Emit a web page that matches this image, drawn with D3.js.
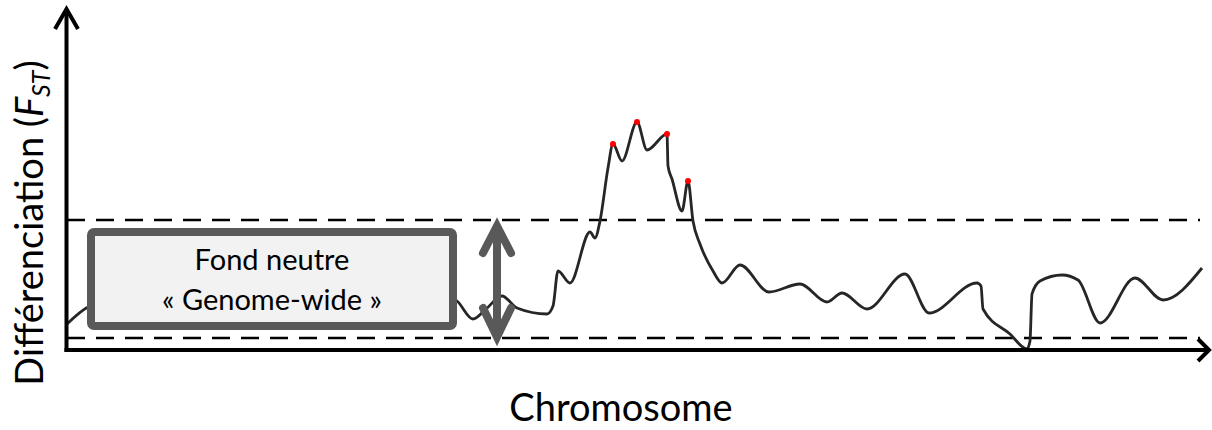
<!DOCTYPE html>
<html><head><meta charset="utf-8">
<script src="https://cdn.jsdelivr.net/npm/d3@7"></script>
<style>
html,body{margin:0;padding:0;background:#fff;}
svg{display:block;font-family:Lato,"Open Sans",sans-serif;}
</style></head>
<body>
<svg id="chart" width="1212" height="430"></svg>
<script>
// Position along the chromosome (arbitrary units)
const positions = [0,21,63,133,203,273,333,373,390,406,419,435,450,480,486,491,503,523,528,533,541,546,555,570,580,600,601,605,615,621,626,633,646,655,673,702,733,760,775,800,838,862,910,914,916,943,960,963,965,973,995,1011,1033,1068,1096,1135];
// FST along the chromosome
const fstValues = [0.026,0.043,0.054,0.044,0.052,0.039,0.049,0.056,0.049,0.031,0.041,0.054,0.042,0.036,0.044,0.079,0.067,0.118,0.112,0.129,0.182,0.206,0.189,0.228,0.200,0.216,0.184,0.171,0.139,0.169,0.129,0.106,0.079,0.067,0.085,0.058,0.066,0.048,0.057,0.041,0.076,0.037,0.067,0.064,0.041,0.016,0.001,0.009,0.056,0.069,0.075,0.070,0.027,0.072,0.050,0.082];
// Outlier peaks (positions) marked in red
const outlierPositions = [546,570,600,621];
// Genome-wide neutral background limits
const thresholds = [0.012,0.130];
// Text labels
const yLabel = "Différenciation (";
const yLabelF = "F";
const yLabelSub = "ST";
const xLabel = "Chromosome";
const boxLines = ["Fond neutre","« Genome-wide »"];

const svg = d3.select("#chart");
const x = d3.scaleLinear().domain([0,1135]).range([67,1202]);
const y = d3.scaleLinear().domain([0,0.34]).range([350,10]);
const data = positions.map((p,i)=>({p, v:fstValues[i]}));

// dashed threshold lines
svg.selectAll("line.thr").data(thresholds).join("line")
  .attr("class","thr")
  .attr("x1",x(0)).attr("x2",1200)
  .attr("y1",d=>y(d)).attr("y2",d=>y(d))
  .attr("stroke","#000").attr("stroke-width",2.6)
  .attr("stroke-dasharray","18 11");

// FST curve
const line = d3.line().x(d=>x(d.p)).y(d=>y(d.v)).curve(d3.curveMonotoneX);
svg.append("path").datum(data).attr("d",line)
  .attr("fill","none").attr("stroke","#262626").attr("stroke-width",2.8)
  .attr("stroke-linejoin","round");

// outlier dots
svg.selectAll("circle.out").data(outlierPositions.map(p=>data.find(d=>d.p===p))).join("circle")
  .attr("class","out").attr("cx",d=>x(d.p)).attr("cy",d=>y(d.v)).attr("r",3)
  .attr("fill","#ff0000");

// neutral background box
svg.append("rect").attr("x",91).attr("y",232).attr("width",362).attr("height",94)
  .attr("rx",3).attr("fill","#f2f2f2").attr("stroke","#595959").attr("stroke-width",8);
svg.selectAll("text.box").data(boxLines).join("text")
  .attr("class","box").attr("x",272).attr("y",(d,i)=>270+i*40)
  .attr("text-anchor","middle").attr("font-size",29).attr("fill","#000").text(d=>d);

// double-headed arrow spanning the background range
const ax = 497, yTop = y(thresholds[1])+6, yBot = y(thresholds[0])-1;
const g = svg.append("g").attr("stroke","#595959").attr("stroke-width",8)
  .attr("fill","none").attr("stroke-linecap","round").attr("stroke-linejoin","miter");
g.append("line").attr("x1",ax).attr("x2",ax).attr("y1",yTop+2).attr("y2",yBot-4);
g.append("path").attr("d",`M${ax-14},${yTop+27} L${ax},${yTop} L${ax+14},${yTop+27}`);
g.append("path").attr("d",`M${ax-14},${yBot-29} L${ax},${yBot} L${ax+14},${yBot-29}`);

// axes
const axG = svg.append("g").attr("stroke","#000").attr("stroke-width",4).attr("fill","none");
axG.append("line").attr("x1",66.5).attr("x2",66.5).attr("y1",y(0)+2).attr("y2",10);
axG.append("path").attr("d","M55,29 L66.5,9 L78,29");
axG.append("line").attr("x1",64.5).attr("x2",1209).attr("y1",y(0)).attr("y2",y(0));
axG.append("path").attr("d",`M1198,${y(0)-11} L1209,${y(0)} L1198,${y(0)+11}`);

// axis labels
svg.append("text").attr("x",621).attr("y",421).attr("text-anchor","middle")
  .attr("font-size",38).attr("fill","#000").text(xLabel);
const yl = svg.append("text").attr("transform","translate(43,223) rotate(-90)")
  .attr("text-anchor","middle").attr("font-size",38).attr("fill","#000");
yl.append("tspan").text(yLabel);
yl.append("tspan").attr("font-style","italic").text(yLabelF);
yl.append("tspan").attr("font-style","italic").attr("font-size",25).attr("dy",7).text(yLabelSub);
yl.append("tspan").attr("dy",-7).text(")");
</script>
</body></html>
